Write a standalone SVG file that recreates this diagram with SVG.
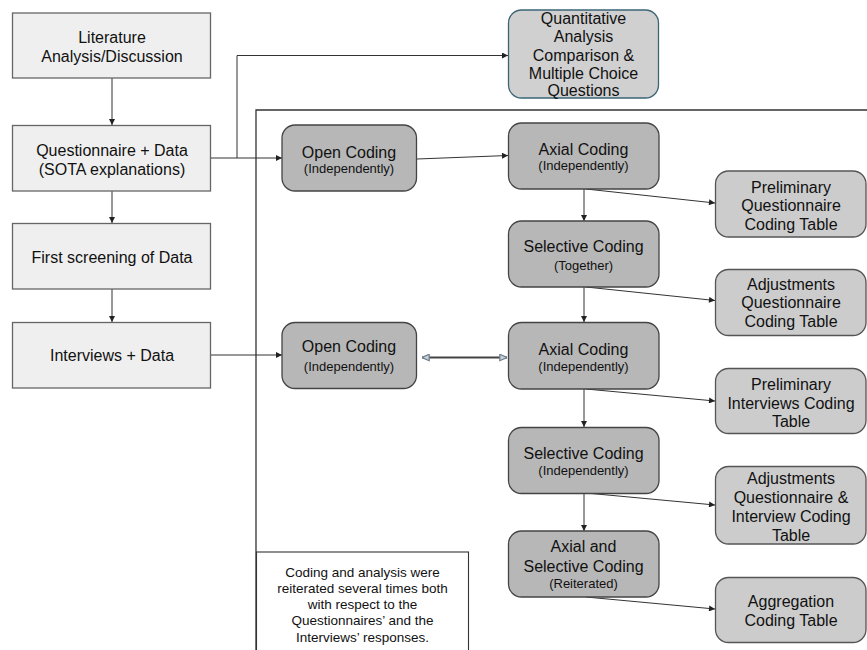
<svg xmlns="http://www.w3.org/2000/svg" width="867" height="650" viewBox="0 0 867 650">
<defs>
<style>
text{font-family:"Liberation Sans",Arial,sans-serif;fill:#111;text-anchor:middle}
.t{font-size:16px}
.s{font-size:13px}
.n{font-size:13.5px}
.left{fill:#efefef;stroke:#666;stroke-width:1.3}
.code{fill:#b7b7b7;stroke:#444;stroke-width:1.3}
.tab{fill:#cccccc;stroke:#555;stroke-width:1.3}
.quant{fill:#d0d0d0;stroke:#3b6475;stroke-width:1.3}
.c{fill:none;stroke:#333;stroke-width:1}
</style>
<marker id="a" viewBox="0 0 10 10" refX="10" refY="5" markerWidth="7" markerHeight="6" markerUnits="userSpaceOnUse" orient="auto">
<path d="M0,0 L10,5 L0,10 z" fill="#222"/>
</marker>
<marker id="h" viewBox="0 0 10 10" refX="10" refY="5" markerWidth="8" markerHeight="8" markerUnits="userSpaceOnUse" orient="auto-start-reverse">
<path d="M1,1 L10,5 L1,9 z" fill="#c8d0d8" stroke="#6b7c8a" stroke-width="1.5"/>
</marker>
</defs>
<rect width="867" height="650" fill="#fff"/>

<g id="frame">
<path d="M256,650 V110 H867" fill="none" stroke="#333" stroke-width="1.3"/>
</g>

<g id="connectors">
<path class="c" d="M112,78 V125" marker-end="url(#a)"/>
<path class="c" d="M112,191 V223" marker-end="url(#a)"/>
<path class="c" d="M112,289 V322" marker-end="url(#a)"/>
<path class="c" d="M211,158 H282" marker-end="url(#a)" stroke-width="1.3"/>
<path class="c" d="M237,158 V55.5 H508" marker-end="url(#a)"/>
<path class="c" d="M417,159 L508,155.5" marker-end="url(#a)"/>
<path class="c" d="M211,355 H282" marker-end="url(#a)"/>
<path d="M422,357.5 H507" fill="none" stroke="#444" stroke-width="2" marker-start="url(#h)" marker-end="url(#h)"/>
<path class="c" d="M584,189 V221" marker-end="url(#a)"/>
<path class="c" d="M584,287 V322" marker-end="url(#a)"/>
<path class="c" d="M584,389 V427" marker-end="url(#a)"/>
<path class="c" d="M584,493 V531" marker-end="url(#a)"/>
<path class="c" d="M586,189 L715,203" marker-end="url(#a)"/>
<path class="c" d="M586,287 L715,300.5" marker-end="url(#a)"/>
<path class="c" d="M586,389 L715,401" marker-end="url(#a)"/>
<path class="c" d="M586,493 L715,505" marker-end="url(#a)"/>
<path class="c" d="M586,597 L715,609" marker-end="url(#a)"/>
</g>

<g id="literature">
<rect class="left" x="12.5" y="13" width="198" height="65"/>
<text class="t" x="112" y="43">Literature</text>
<text class="t" x="112" y="61.7">Analysis/Discussion</text>
</g>
<g id="questionnaire">
<rect class="left" x="12.5" y="125.5" width="198" height="65.5"/>
<text class="t" x="112" y="155.7">Questionnaire + Data</text>
<text class="t" x="112" y="175">(SOTA explanations)</text>
</g>
<g id="screening">
<rect class="left" x="12.5" y="223.5" width="198" height="65.5"/>
<text class="t" x="112" y="263">First screening of Data</text>
</g>
<g id="interviews">
<rect class="left" x="12.5" y="322.5" width="198" height="65.5"/>
<text class="t" x="112" y="361.4">Interviews + Data</text>
</g>

<g id="quantitative">
<rect class="quant" x="508.5" y="10" width="150" height="88" rx="13"/>
<text class="t" x="583.5" y="24">Quantitative</text>
<text class="t" x="583.5" y="42.3">Analysis</text>
<text class="t" x="583.5" y="60.6">Comparison &amp;</text>
<text class="t" x="583.5" y="78.9">Multiple Choice</text>
<text class="t" x="583.5" y="96.4">Questions</text>
</g>

<g id="open1">
<rect class="code" x="282" y="125" width="134.5" height="66" rx="13"/>
<text class="t" x="349" y="157.5">Open Coding</text>
<text class="s" x="349" y="173">(Independently)</text>
</g>
<g id="axial1">
<rect class="code" x="508.5" y="123" width="150.5" height="66" rx="13"/>
<text class="t" x="583.5" y="155">Axial Coding</text>
<text class="s" x="583.5" y="169.7">(Independently)</text>
</g>
<g id="selective1">
<rect class="code" x="508.5" y="221" width="150.5" height="66" rx="13"/>
<text class="t" x="583.5" y="252.4">Selective Coding</text>
<text class="s" x="583.5" y="270.4">(Together)</text>
</g>
<g id="open2">
<rect class="code" x="282" y="322.5" width="134.5" height="66" rx="13"/>
<text class="t" x="349" y="352.4">Open Coding</text>
<text class="s" x="349" y="371.4">(Independently)</text>
</g>
<g id="axial2">
<rect class="code" x="508.5" y="322.5" width="150.5" height="66.5" rx="13"/>
<text class="t" x="583.5" y="355">Axial Coding</text>
<text class="s" x="583.5" y="371.4">(Independently)</text>
</g>
<g id="selective2">
<rect class="code" x="508.5" y="427.5" width="150.5" height="66" rx="13"/>
<text class="t" x="583.5" y="459">Selective Coding</text>
<text class="s" x="583.5" y="474.7">(Independently)</text>
</g>
<g id="axialselective">
<rect class="code" x="508.5" y="531" width="150.5" height="66" rx="13"/>
<text class="t" x="583.5" y="552.4">Axial and</text>
<text class="t" x="583.5" y="571.7">Selective Coding</text>
<text class="s" x="583.5" y="588">(Reiterated)</text>
</g>

<g id="prelimQ">
<rect class="tab" x="715.5" y="171" width="150.5" height="66" rx="13"/>
<text class="t" x="791" y="193">Preliminary</text>
<text class="t" x="791" y="211.3">Questionnaire</text>
<text class="t" x="791" y="229.6">Coding Table</text>
</g>
<g id="adjQ">
<rect class="tab" x="715.5" y="269.5" width="150.5" height="66" rx="13"/>
<text class="t" x="791" y="290">Adjustments</text>
<text class="t" x="791" y="308.3">Questionnaire</text>
<text class="t" x="791" y="326.6">Coding Table</text>
</g>
<g id="prelimI">
<rect class="tab" x="715.5" y="368.5" width="150.5" height="65" rx="13"/>
<text class="t" x="791" y="390">Preliminary</text>
<text class="t" x="791" y="408.8">Interviews Coding</text>
<text class="t" x="791" y="426.6">Table</text>
</g>
<g id="adjQI">
<rect class="tab" x="715.5" y="466.5" width="150.5" height="77.5" rx="13"/>
<text class="t" x="791" y="484">Adjustments</text>
<text class="t" x="791" y="503.3">Questionnaire &amp;</text>
<text class="t" x="791" y="522.3">Interview Coding</text>
<text class="t" x="791" y="540.6">Table</text>
</g>
<g id="aggregation">
<rect class="tab" x="715.5" y="577.5" width="150.5" height="65" rx="13"/>
<text class="t" x="791" y="607.4">Aggregation</text>
<text class="t" x="791" y="625.7">Coding Table</text>
</g>

<g id="note">
<rect x="256.5" y="552" width="212" height="110" fill="#fff" stroke="#333" stroke-width="1.1"/>
<text class="n" x="362.5" y="576.5">Coding and analysis were</text>
<text class="n" x="362.5" y="592.8">reiterated several times both</text>
<text class="n" x="362.5" y="609">with respect to the</text>
<text class="n" x="362.5" y="625.3">Questionnaires’ and the</text>
<text class="n" x="362.5" y="641.5">Interviews’ responses.</text>
</g>
</svg>
